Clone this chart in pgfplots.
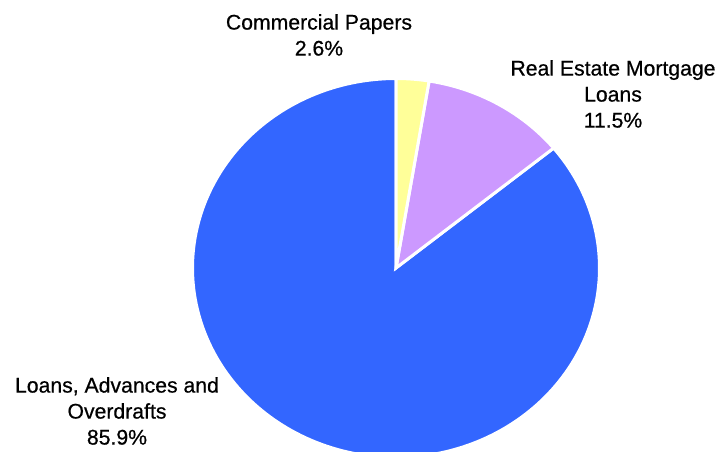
\documentclass[border=0pt]{standalone}
\usepackage{pgfplots}
\pgfplotsset{compat=1.18}
\usepackage{fontspec}
\setmainfont{Liberation Sans}
\newfontfamily\labelfont{Liberation Sans}[FakeBold=0.6]
\definecolor{pieyellow}{HTML}{FFFF99}
\definecolor{pielilac}{HTML}{CC99FF}
\definecolor{pieblue}{HTML}{3366FF}
% shares in percent
\def\valA{2.6}   % Commercial Papers
\def\valB{11.5}  % Real Estate Mortgage Loans
\def\valC{85.9}  % Loans, Advances and Overdrafts
\pgfmathsetmacro\angA{90}
\pgfmathsetmacro\angB{\angA-3.6*\valA}
\pgfmathsetmacro\angC{\angB-3.6*\valB}
\pgfmathsetmacro\angD{\angC-3.6*\valC}
\begin{document}
\begin{tikzpicture}
\useasboundingbox (0,0) rectangle (537.75pt,339pt);
\clip (0,0) rectangle (537.75pt,339pt);
\begin{axis}[hide axis, x=0.75pt, y=0.75pt,
  xmin=-396, xmax=321, ymin=-184, ymax=268,
  clip=false]
\addplot[fill=pieblue, draw=white, line width=2.25pt, domain=\angD:\angC, samples=200]
  ({203.5*cos(x)},{189.5*sin(x)}) -- (axis cs:0,0) -- cycle;
\addplot[fill=pielilac, draw=white, line width=2.25pt, domain=\angC:\angB, samples=60]
  ({203.5*cos(x)},{189.5*sin(x)}) -- (axis cs:0,0) -- cycle;
\addplot[fill=pieyellow, draw=white, line width=2.25pt, domain=\angB:\angA, samples=20]
  ({203.5*cos(x)},{189.5*sin(x)}) -- (axis cs:0,0) -- cycle;
\node[align=center, font=\labelfont\fontsize{15.9}{19.5}\selectfont] at (axis cs:-77,233) {Commercial Papers\\2.6\%};
\node[align=center, font=\labelfont\fontsize{15.9}{19.5}\selectfont] at (axis cs:217,174) {Real Estate Mortgage\\Loans\\11.5\%};
\node[align=center, font=\labelfont\fontsize{15.9}{19.5}\selectfont] at (axis cs:-279,-143) {Loans, Advances and\\Overdrafts\\85.9\%};
\end{axis}
\end{tikzpicture}
\end{document}
